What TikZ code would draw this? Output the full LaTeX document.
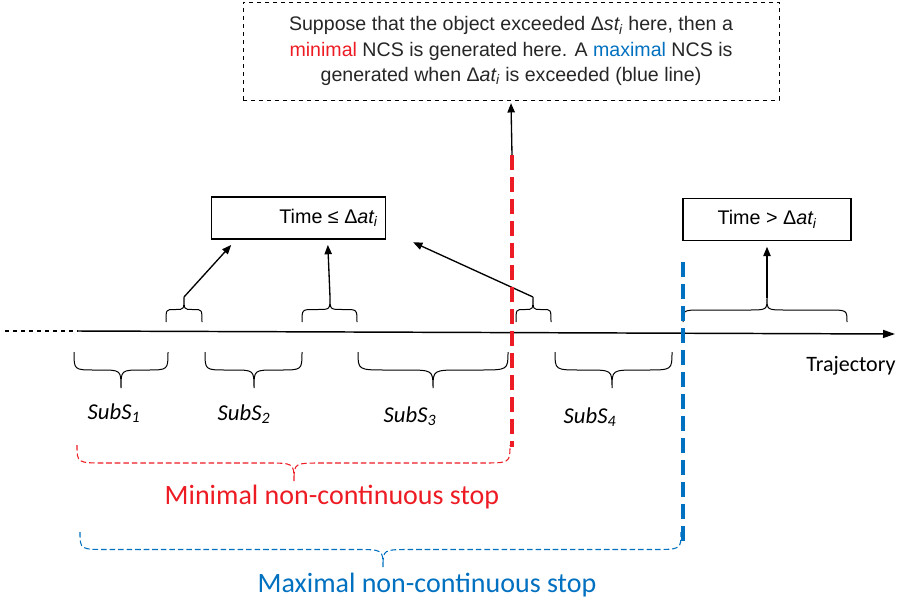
\documentclass[tikz,border=0pt]{standalone}
\usepackage{fontspec}
\setmainfont{Liberation Sans}
\newfontfamily\calibri{Carlito}
\usepackage{tikz}
\usetikzlibrary{arrows.meta,positioning}
\definecolor{stopRed}{RGB}{237,28,36}
\definecolor{stopBlue}{RGB}{0,112,192}

% curly brace: [style] x1, x2, x-tip, y-ends, y-tip, name of tip
\newcommand{\curly}[7][]{%
  \pgfmathsetmacro{\ym}{(#5+#6)/2}%
  \pgfmathsetmacro{\rr}{min(abs(#6-#5)*0.8,(#4-#2)/2.2,(#3-#4)/2.2)}%
  \draw[#1] (#2,#5) .. controls (#2,\ym) .. (#2+\rr,\ym) -- (#4-\rr,\ym)
    .. controls (#4,\ym) .. (#4,#6) .. controls (#4,\ym) .. (#4+\rr,\ym)
    -- (#3-\rr,\ym) .. controls (#3,\ym) .. (#3,#5);
  \coordinate (#7) at (#4,#6);}

\begin{document}
\begin{tikzpicture}[x=0.75pt,y=-0.75pt,
    timebox/.style={draw,line width=0.9pt,inner sep=0pt,font=\fontsize{14.8}{16}\selectfont},
    flow/.style={-{Triangle[length=7pt,width=5.5pt]},line width=1pt},
    brc/.style={line width=0.75pt},
    limit/.style={line width=2.3pt,dash pattern=on 11pt off 5.5pt},
    span/.style={line width=0.8pt,dash pattern=on 4.2pt off 2.2pt},
    sub/.style={font=\calibri\itshape\fontsize{17}{19}\selectfont}]
\useasboundingbox (0,0) rectangle (900,603);

% note and time boxes
\node[draw,dashed,line width=0.7pt,minimum width=402pt,minimum height=73.5pt,align=center,
      font=\fontsize{14.7}{19}\selectfont,text=black!85] (note) at (511,51)
  {Suppose that the object exceeded Δ\textit{st\textsubscript{i}} here, then a\\
   \textcolor{stopRed}{minimal} NCS is generated here. A \textcolor{stopBlue}{maximal} NCS is\\
   generated when Δ\textit{at\textsubscript{i}} is exceeded (blue line)};
\node[timebox,minimum width=131pt,minimum height=31.5pt] (le) at (298.5,218)
  {\hspace*{45pt}Time ≤ Δ\textit{at\textsubscript{i}}};
\node[timebox,minimum width=126pt,minimum height=32pt] (gt) at (767,219.5)
  {Time > Δ\textit{at\textsubscript{i}}};

% trajectory
\coordinate (trajTail) at (5,331);
\coordinate (trajStart) at (78,331);
\coordinate (trajEnd) at (895,334);
\draw[dashed,line width=0.8pt] (trajTail) -- (trajStart);
\draw[-{Triangle[length=9pt,width=6pt]},line width=1.1pt] (trajStart) -- (trajEnd);
\node[font=\calibri\fontsize{16.5}{18}\selectfont] (traj) at (851,366) {Trajectory};

% gaps above the trajectory
\curly[brc]{166}{202}{184}{322}{297}{g1}
\curly[brc]{302}{357}{330}{322}{297}{g2}
\curly[brc]{516}{551}{533}{322}{297}{g3}
\curly[brc]{683}{847}{767}{322}{298}{g4}
\draw[flow] (g1) -- ([xshift=15.5pt,yshift=-4pt]le.south west);
\draw[flow] (g2) -- ([xshift=22pt,yshift=-4pt]le.south);
\draw[flow] (g3) -- ([xshift=20pt,yshift=-2pt]le.south east);
\draw[flow] (g4) -- ([yshift=-4pt]gt.south);

% sub-stops below the trajectory
\curly[brc]{74}{168}{121}{352}{388}{s1}
\curly[brc]{205}{302}{254}{352}{388}{s2}
\curly[brc]{358}{508}{433}{352}{388}{s3}
\curly[brc]{555}{672}{612}{352}{388}{s4}
\foreach \i/\x/\y in {1/114/413,2/244/414,3/410/416,4/590/417}
  \node[sub] (lab\i) at (\x,\y) {SubS\textsubscript{\i}};

% limits
\coordinate (redTop) at (512,155);
\coordinate (redBot) at (512,447);
\coordinate (blueTop) at (683,262);
\coordinate (blueBot) at (683,545);
\draw[limit,stopRed] (redTop) -- (redBot);
\draw[limit,stopBlue] (blueTop) -- (blueBot);
\draw[flow] (redTop) -- ([yshift=-2pt]note.south);

% non-continuous stops
\curly[span,stopRed]{77}{510}{294}{445}{481}{minTip}
\curly[span,stopBlue]{80}{681}{383}{532}{567}{maxTip}
\node[font=\calibri\fontsize{21}{23}\selectfont,text=stopRed] (minLab) at (332,497) {Minimal non-continuous stop};
\node[font=\calibri\fontsize{21}{23}\selectfont,text=stopBlue] (maxLab) at (427,585) {Maximal non-continuous stop};
\end{tikzpicture}
\end{document}
